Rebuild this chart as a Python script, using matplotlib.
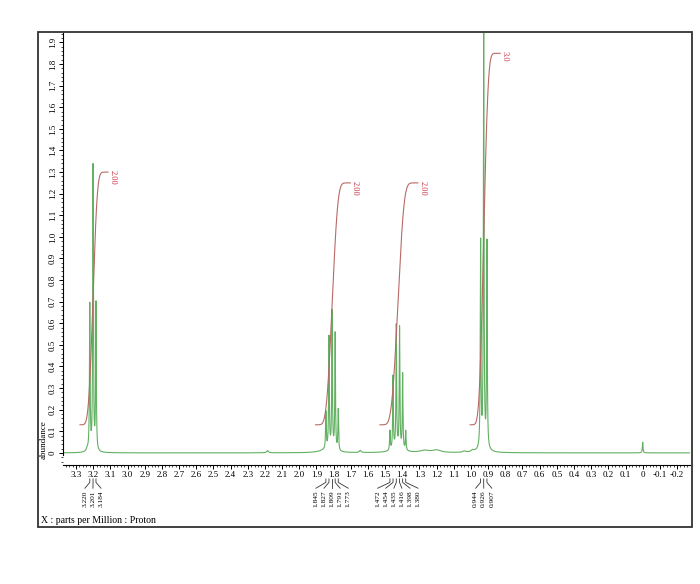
import numpy as np
import matplotlib
matplotlib.use("Agg")
import matplotlib.pyplot as plt
from matplotlib.ticker import MultipleLocator, FuncFormatter
from matplotlib.transforms import blended_transform_factory
from matplotlib.patches import Rectangle

plt.rcParams['font.family'] = ['Liberation Serif', 'DejaVu Serif']

# peak positions (ppm) and heights
peak_ppm = [3.220, 3.201, 3.184,
            1.845, 1.827, 1.809, 1.791, 1.773,
            1.472, 1.454, 1.435, 1.416, 1.398, 1.380,
            0.944, 0.926, 0.907,
            0.000]
peak_height = [0.68, 1.32, 0.68,
               0.17, 0.52, 0.64, 0.54, 0.19,
               0.09, 0.34, 0.57, 0.56, 0.35, 0.09,
               0.96, 1.92, 0.96,
               0.05]
# small broad humps in the baseline
hump_ppm = [3.235, 2.185, 1.645, 1.27, 1.20, 1.04, 0.99, 1.84, 1.43, 0.93]
hump_height = [0.012, 0.010, 0.010, 0.010, 0.012, 0.006, 0.008, 0.015, 0.015, 0.012]
hump_width = [0.006, 0.006, 0.006, 0.03, 0.03, 0.01, 0.01, 0.04, 0.04, 0.03]

# integral groups
groups = [[0, 1, 2], [3, 4, 5, 6, 7], [8, 9, 10, 11, 12, 13], [14, 15, 16]]
int_start = [3.277, 1.905, 1.530, 1.005]
int_end = [3.114, 1.703, 1.310, 0.830]
int_low = [0.13, 0.13, 0.13, 0.13]
int_high = [1.30, 1.25, 1.25, 1.85]
int_text = ['2.00', '2.00', '2.00', '3.0']

x_ticks = [3.3, 3.2, 3.1, 3.0, 2.9, 2.8, 2.7, 2.6, 2.5, 2.4, 2.3, 2.2, 2.1, 2.0,
           1.9, 1.8, 1.7, 1.6, 1.5, 1.4, 1.3, 1.2, 1.1, 1.0, 0.9, 0.8, 0.7, 0.6,
           0.5, 0.4, 0.3, 0.2, 0.1, 0.0, -0.1, -0.2]

green = '#62b062'
red_curve = '#b86a66'
red_text = '#cc3040'

x = np.linspace(3.38, -0.28, 9000)
w = 0.0022
y = np.zeros_like(x)
for p, h in zip(peak_ppm, peak_height):
    y += h * w**2 / ((x - p)**2 + w**2)
for p, h, hw in zip(hump_ppm, hump_height, hump_width):
    y += h * hw**2 / ((x - p)**2 + hw**2)

fig = plt.figure(figsize=(7, 5.84), dpi=100)
ax = fig.add_axes([0.09, 0.2038, 0.8957, 0.7397])
ax.plot(x, y, color=green, lw=0.8)

# integral curves (running sum of each multiplet, smoothed)
sig = 0.014
for g, xs, xe, lo, hi, txt in zip(groups, int_start, int_end, int_low, int_high, int_text):
    xi = np.linspace(xs, xe, 600)
    yi = np.zeros_like(xi)
    for k in g:
        yi += peak_height[k] * np.exp(-0.5 * ((xi - peak_ppm[k]) / sig)**2)
    c = np.cumsum(yi)
    c = (c - c[0]) / (c[-1] - c[0])
    ax.plot(xi, lo + (hi - lo) * c, color=red_curve, lw=0.8)
    ax.text(xe - 0.028, hi + 0.01, txt, rotation=270, color=red_text,
            fontsize=6, ha='center', va='top')

ax.set_xlim(3.376, -0.2755)
ax.set_ylim(-0.056, 1.944)
for s in ['top', 'right']:
    ax.spines[s].set_visible(False)
ax.spines['left'].set_bounds(-0.01, 1.944)
ax.spines['left'].set_linewidth(0.8)
ax.spines['bottom'].set_linewidth(0.8)
ax.set_xticks(x_ticks)
ax.xaxis.set_minor_locator(MultipleLocator(0.02))
ax.yaxis.set_minor_locator(MultipleLocator(0.02))
fmt = FuncFormatter(lambda v, pos: '0' if abs(v) < 1e-9 else '%.1f' % v)
ax.xaxis.set_major_formatter(fmt)
ax.yaxis.set_major_formatter(fmt)
ax.set_yticks(np.arange(0, 1.95, 0.1))
ax.tick_params(axis='both', which='major', length=3, width=0.7, labelsize=6.5, pad=1.5)
ax.tick_params(axis='both', which='minor', length=1.6, width=0.5)
for lab in ax.get_yticklabels():
    lab.set_rotation(90)
    lab.set_va('center')

fig.text(0.062, 0.247, 'abundance', rotation=90, fontsize=6.5, ha='center', va='center')
fig.text(0.058, 0.108, 'X : parts per Million : Proton', fontsize=7, ha='left', va='center')

# peak pick labels below axis
tr = blended_transform_factory(ax.transData, fig.transFigure)
spacing = 0.047
for g in groups:
    n = len(g)
    centre = np.mean([peak_ppm[k] for k in g])
    for i, k in enumerate(g):
        lx = centre + (n - 1) / 2 * spacing - i * spacing
        ax.plot([peak_ppm[k], peak_ppm[k], lx], [0.180, 0.174, 0.164],
                color='#333333', lw=0.6, transform=tr, clip_on=False)
        ax.text(lx, 0.160, '%.3f' % peak_ppm[k], rotation=90, fontsize=5.3,
                ha='center', va='top', transform=tr)

fig.patches.append(Rectangle((0.0543, 0.0976), 0.9343, 0.8476, transform=fig.transFigure,
                             fill=False, edgecolor='#333333', lw=1.3))

fig.savefig('out.png', dpi=100)
